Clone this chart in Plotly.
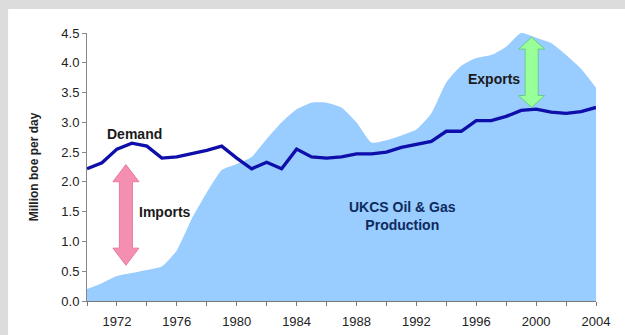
import plotly.graph_objects as go

# UK oil & gas: annual values, million barrels of oil equivalent per day
years = list(range(1970, 2005))
production = [0.20, 0.30, 0.42, 0.47, 0.52, 0.58, 0.85, 1.38, 1.82, 2.20,
              2.30, 2.42, 2.72, 3.00, 3.22, 3.33, 3.33, 3.25, 3.00, 2.66,
              2.70, 2.78, 2.88, 3.15, 3.67, 3.95, 4.08, 4.13, 4.27, 4.50,
              4.42, 4.33, 4.13, 3.90, 3.58]
demand = [2.22, 2.32, 2.55, 2.65, 2.60, 2.40, 2.42, 2.47, 2.53, 2.60,
          2.40, 2.22, 2.33, 2.22, 2.55, 2.42, 2.40, 2.42, 2.47, 2.47,
          2.50, 2.58, 2.63, 2.68, 2.85, 2.85, 3.03, 3.03, 3.10, 3.20,
          3.22, 3.17, 3.15, 3.18, 3.25]
x_tick_labels = ["1972", "1976", "1980", "1984", "1988", "1992", "1996", "2000", "2004"]
y_tick_values = [0.0, 0.5, 1.0, 1.5, 2.0, 2.5, 3.0, 3.5, 4.0, 4.5]

FONT = "Liberation Sans, Arial, sans-serif"
AREA = "#99ccff"
LINE = "#0e0eaa"

fig = go.Figure()
fig.add_trace(go.Scatter(
    x=years, y=production, mode="lines", fill="tozeroy",
    fillcolor=AREA, line=dict(width=0, color=AREA, shape="spline", smoothing=0.5),
    hoverinfo="skip", showlegend=False))
fig.add_trace(go.Scatter(
    x=years, y=demand, mode="lines",
    line=dict(width=3.3, color=LINE), hoverinfo="skip", showlegend=False))


def double_arrow(xc, y_top, y_bottom, fill, outline):
    """Vertical double-headed block arrow; width in pixels, ends in data units."""
    hw, sw = 13, 6.5            # half widths of head and shaft (px)
    head = (y_top - y_bottom) * 0.17
    path = (f"M 0,{y_top} L {hw},{y_top - head} L {sw},{y_top - head} "
            f"L {sw},{y_bottom + head} L {hw},{y_bottom + head} L 0,{y_bottom} "
            f"L {-hw},{y_bottom + head} L {-sw},{y_bottom + head} "
            f"L {-sw},{y_top - head} L {-hw},{y_top - head} Z")
    return dict(type="path", xref="x", yref="y", xsizemode="pixel", xanchor=xc,
                path=path, fillcolor=fill, line=dict(color=outline, width=1),
                layer="above")


shapes = [
    # light grey frame along the top and left edges
    dict(type="rect", xref="paper", yref="paper", x0=-0.2, x1=1.1,
         y0=1.0896, y1=1.2, fillcolor="#dcdcdc", line=dict(width=0), layer="below"),
    dict(type="rect", xref="paper", yref="paper", x0=-0.2, x1=-0.155,
         y0=-0.2, y1=1.2, fillcolor="#dcdcdc", line=dict(width=0), layer="below"),
    double_arrow(1972.6, 2.29, 0.60, "#f48fb1", "#e87aa0"),
    double_arrow(1999.7, 4.43, 3.25, "#99ff99", "#66cc88"),
]

txt = dict(family=FONT, size=14, color="#1a1a1a")
annotations = [
    dict(x=1973.2, y=2.81, text="<b>Demand</b>", showarrow=False, font=txt),
    dict(x=1975.2, y=1.49, text="<b>Imports</b>", showarrow=False, font=txt),
    dict(x=1997.2, y=3.72, text="<b>Exports</b>", showarrow=False, font=txt),
    dict(x=1991.1, y=1.42, text="<b>UKCS Oil &amp; Gas<br>Production</b>",
         showarrow=False, font=dict(family=FONT, size=14, color="#0f2a5c")),
]

fig.update_layout(
    width=625, height=335,
    margin=dict(l=87, r=29, t=33, b=34, autoexpand=False),
    paper_bgcolor="white", plot_bgcolor="rgba(0,0,0,0)",
    shapes=shapes, annotations=annotations,
    font=dict(family=FONT, color="#222222"),
    xaxis=dict(
        range=[1970, 2004], tickmode="array", automargin=False,
        tickvals=[int(t) for t in x_tick_labels], ticktext=x_tick_labels,
        ticks="outside", ticklen=4, tickcolor="#777777", ticklabelstandoff=4,
        minor=dict(dtick=2, tick0=1970, ticks="outside", ticklen=4, tickcolor="#777777"),
        showline=True, linecolor="#777777", linewidth=1, showgrid=False, zeroline=False,
        tickfont=dict(family=FONT, size=13, color="#222222"), tickprefix="<b>", ticksuffix="</b>",
    ),
    yaxis=dict(
        range=[0, 4.5], tickmode="array", tickvals=y_tick_values, automargin=False,
        tickformat=".1f", ticks="outside", ticklen=4, tickcolor="#888888",
        showline=True, linecolor="#888888", linewidth=1, showgrid=False, zeroline=False,
        tickfont=dict(family=FONT, size=13, color="#222222"), tickprefix="<b>", ticksuffix="</b>",
        title=dict(text="<b>Million boe per day</b>", standoff=20,
                   font=dict(family=FONT, size=12, color="#222222")),
    ),
)

fig.write_html("out.html")
